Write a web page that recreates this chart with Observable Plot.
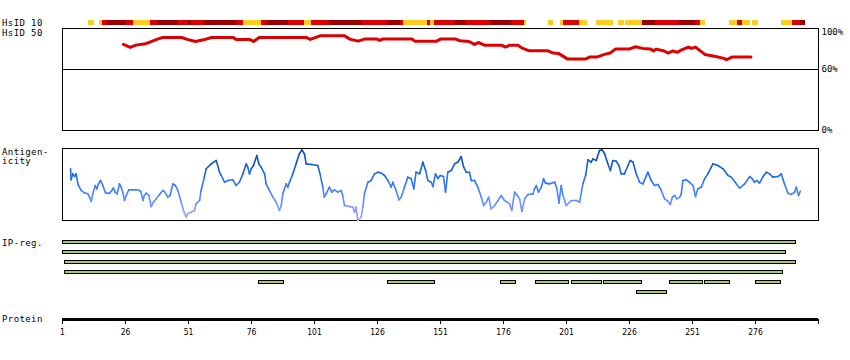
<!DOCTYPE html>
<html><head><meta charset="utf-8">
<script src="https://cdn.jsdelivr.net/npm/d3@7"></script>
<script src="https://cdn.jsdelivr.net/npm/@observablehq/plot@0.6"></script>
<style>
body{margin:0;background:#fff}
#c{position:relative;width:850px;height:360px;overflow:hidden;background:#fff}
#c svg{position:absolute;left:0;top:0}
.lab{position:absolute;left:2px;font:9px "DejaVu Sans Mono",monospace;letter-spacing:0.4px;line-height:10px;white-space:pre;color:#000}
</style></head><body>
<div id="c">
<div class="lab" style="top:18px">HsID 10</div>
<div class="lab" style="top:28px">HsID 50</div>
<div class="lab" style="top:147.6px;line-height:9.5px">Antigen-
icity</div>
<div class="lab" style="top:238px">IP-reg.</div>
<div class="lab" style="top:314.4px">Protein</div>
</div>
<script>
// ---- data (residue positions) ----
const proteinTicks = [1, 26, 51, 76, 101, 126, 151, 176, 201, 226, 251, 276];
const hsid10Levels = ["low", "mid", "high"];
const hsid10Colors = ["#ffcc22", "#dd0000", "#990000"];
// [start, end, level]
const hsid10 = [[11.5,13.5,"low"],[15.5,17,"low"],[17,19,"mid"],[19,26.5,"high"],[26.5,29,"mid"],[29,36,"low"],[36,38.5,"mid"],[38.5,47,"high"],[47,51,"mid"],[51,52,"high"],[52,57.5,"mid"],[57.5,70,"high"],[70,73,"mid"],[73,80,"low"],[80,82.5,"mid"],[82.5,90.5,"high"],[90.5,97,"mid"],[97,100,"low"],[100,107,"mid"],[107,120,"high"],[120,130,"mid"],[130,135,"high"],[135,136.5,"mid"],[136.5,146,"low"],[146,147,"mid"],[147,148.5,"low"],[148.5,157,"mid"],[157,161.5,"high"],[161.5,171,"mid"],[171,179,"high"],[179,184.5,"mid"],[184.5,185,"low"],[194,196,"low"],[198.5,200,"low"],[200,206,"mid"],[206,209.5,"low"],[213,219.5,"low"],[221.5,224,"low"],[224.5,226.5,"low"],[226.5,231,"low"],[231,236.5,"high"],[236.5,246,"mid"],[246,252,"high"],[252,254,"mid"],[254,256,"low"],[265.5,269,"low"],[269,271,"mid"],[271,274,"low"],[275,277,"low"],[286.5,290.5,"low"],[290.5,294,"mid"],[294,296,"high"]];
// [residue, % identity]
const hsid50 = [[25.2,84.5],[27.9,81.4],[30.1,83.7],[33.3,84.7],[35.4,86.3],[38.7,89.6],[40.8,91.2],[48.3,91.2],[50.5,89.3],[53.7,87.3],[56.9,88.9],[60.2,91.2],[68.8,91.2],[69.8,89.3],[75.2,89.3],[76.8,87.3],[79.1,91.2],[97.8,91.2],[99.3,89.3],[103.2,92.8],[112.9,92.8],[115,89.6],[118.3,87.6],[120.8,89.6],[125.8,89.6],[126.9,88.3],[127.9,89.6],[139.8,89.6],[140.8,87.6],[149.5,87.6],[151,89.6],[157,89.6],[158.7,88],[162.3,87.3],[164.5,84.4],[166,86.3],[168.4,83.7],[175.2,83.7],[176.8,81.8],[178.5,83.7],[181.7,83.7],[183.2,81.1],[186,78.2],[193.5,78.2],[195.7,75.9],[197.8,75.6],[201.5,70],[208.5,70],[210.1,72],[212.9,72],[216.1,74.6],[218.3,75.9],[220.4,79.8],[225.8,79.8],[228.4,82.1],[231.2,80.5],[234.4,79.8],[235.5,77.9],[236.6,79.8],[239.8,77.9],[241.3,75.9],[243,77.9],[245.1,76.8],[246.2,78.5],[249.4,81.8],[250.5,80.5],[252.2,81.8],[255.9,74.6],[260.2,72.6],[263.4,70.7],[264.5,69.4],[266.7,72],[274.2,72]];
const hsid50Ticks = [100, 60, 0];
// [residue, antigenicity (relative)]
const antigen = [[4.2,71.8],[4.4,56.5],[5.1,64.8],[5.8,61.1],[6.4,64.8],[7.1,50.9],[7.7,46.3],[8.4,41.7],[9.7,38.4],[11.1,37],[11.7,32.4],[12.4,26.4],[13.0,37],[14.0,48.6],[14.6,44],[15.3,50.9],[16.1,55.6],[17.0,48.6],[18.1,38],[19.7,38],[20.6,41.7],[21.2,45.4],[21.9,39.4],[22.7,37],[23.6,50.9],[24.3,46.3],[24.9,39.4],[25.6,27.8],[26.3,34.7],[27.3,42.6],[30.2,42.6],[31.6,41.7],[32.2,39.4],[32.9,27.8],[33.5,34.7],[34.2,38],[35.3,34.7],[36.2,19.4],[37.1,25.5],[38.2,30.1],[39.5,36.1],[40.8,41.7],[41.7,39.4],[42.8,32.4],[43.7,34.7],[44.8,50.9],[45.8,48.6],[46.8,41.7],[48.1,25.5],[49.1,13],[50.1,4.6],[50.7,9.3],[52.1,11.6],[53.4,13.9],[54.0,23.1],[55.4,27.8],[56.0,41.7],[57.3,60.2],[58.0,71.8],[60.0,78.7],[62.0,83.3],[62.6,76.4],[63.3,67.1],[64.0,62.5],[65.3,53.2],[66.6,55.6],[68.6,56.5],[69.9,48.6],[71.2,53.2],[72.6,64.8],[73.9,78.7],[74.5,74.1],[75.2,64.8],[75.9,71.8],[76.8,76.4],[78.1,90.3],[78.9,78.7],[79.8,74.1],[81.2,64.8],[81.8,50.9],[83.1,41.7],[84.5,32.4],[85.8,25.5],[87.1,13.9],[87.8,20.8],[88.4,37],[89.8,50.9],[90.4,46.3],[91.1,53.2],[92.4,64.8],[93.7,78.7],[95.0,92.6],[96.0,98.1],[97.0,92.6],[97.7,78.7],[99.7,77.8],[102.3,76.4],[103.2,64.8],[104.3,46.3],[104.9,32.4],[105.6,37],[106.9,46.3],[107.9,39.4],[108.9,42.6],[110.3,39.4],[111.6,41.7],[112.2,34.7],[112.9,20.8],[114.9,19.4],[116.2,18.5],[116.9,11.6],[117.5,18.5],[118.2,0],[119.5,4.6],[120.2,18.5],[120.8,37],[122.2,53.2],[123.5,55.6],[124.8,64.8],[126.1,67.1],[127.5,65.7],[128.8,62.5],[130.1,55.6],[131.4,46.3],[132.1,53.2],[133.4,41.7],[134.5,28.7],[135.4,32.4],[136.7,46.3],[138.0,60.2],[139.4,57.9],[140.4,44],[141.3,67.1],[142.7,64.8],[144.0,81],[145.1,69.4],[146.0,55.6],[147.3,53.2],[148.0,47.2],[149.0,64.8],[150.0,58.3],[150.9,62.5],[152.2,61.1],[153.0,39.4],[153.9,67.1],[155.3,69.4],[156.6,78.7],[157.9,81],[159.2,88.9],[160.2,74.1],[161.2,67.1],[162.5,67.1],[163.2,55.6],[164.5,55.6],[165.8,46.3],[167.2,32.4],[168.1,20.8],[169.2,25.5],[170.1,32.4],[171.1,16.2],[172.5,20.8],[173.8,27.8],[175.1,34.7],[176.4,27.8],[178.4,23.1],[179.3,13.9],[180.4,39.4],[181.5,34.7],[182.4,30.1],[183.3,12.5],[184.4,30.1],[185.7,36.1],[187.7,37],[188.3,44],[189.0,48.6],[189.9,39.4],[191.0,46.3],[191.9,57.9],[192.7,51.9],[194.3,50.9],[196.3,53.2],[197.2,44],[198.0,24.1],[198.9,48.6],[199.6,34.7],[200.9,20.8],[202.9,27.8],[204.9,27.8],[206.2,25.5],[207.5,50.9],[208.6,62.5],[209.5,84.3],[210.8,81],[211.5,85.6],[212.8,83.3],[214.1,97.2],[215.2,98.1],[216.1,92.6],[217.4,78.7],[218.4,69.4],[219.4,83.3],[220.7,82.4],[221.8,76.4],[222.7,64.8],[224.0,64.8],[225.4,76.4],[226.3,83.3],[227.4,81],[228.7,64.8],[230.0,53.2],[231.3,50.9],[233.3,67.1],[234.6,55.6],[236.0,48.6],[237.3,50],[238.6,41.7],[239.9,30.1],[241.2,26.9],[242.2,22.2],[243.0,32.4],[243.9,34.7],[244.8,30.1],[245.9,32.4],[246.5,36.1],[247.2,55.6],[248.5,56.5],[249.8,53.2],[251.2,48.6],[252.2,33.3],[253.1,44],[254.5,46.3],[255.8,57.9],[257.1,64.8],[259.1,78.7],[261.1,76.4],[263.1,71.8],[265.1,62.5],[266.4,60.2],[268.4,50.9],[269.7,44.9],[271.7,50.9],[273.7,61.1],[274.7,57.9],[275.6,53.2],[276.6,55.6],[277.6,51.9],[279.0,61.1],[280.3,67.1],[281.6,64.8],[282.9,60.2],[284.9,61.1],[286.2,64.8],[287.5,50.9],[288.9,38],[290.2,36.1],[291.5,39.4],[292.2,46.3],[293.1,34.7],[293.8,40.7]];
// [row, start, end]
const ipRows = [1, 2, 3, 4, 5, 6];
const ipreg = [[1,1,292],[2,1,288],[3,2,292],[4,2,287],[5,79,89],[5,130,149],[5,175,181],[5,189,202],[5,203,215],[5,216,231],[5,242,255],[5,256,266],[5,276,286],[6,229,241]];

// ---- layout ----
const W = 850, H = 360, ML = 62, MR = 32, xDomain = [1, 301];
const svgStyle = "background:transparent;overflow:visible;";
function panel(mt, mb, opts) {
  return Plot.plot(Object.assign({
    width: W, height: H, marginLeft: ML, marginRight: MR, marginTop: mt, marginBottom: mb,
    style: svgStyle, x: {domain: xDomain, axis: null}
  }, opts));
}
const c = document.getElementById("c");

// HsID 10 strip
c.appendChild(panel(20, 335, {
  color: {type: "ordinal", domain: hsid10Levels, range: hsid10Colors},
  marks: [Plot.rect(hsid10, {x1: d => d[0], x2: d => d[1], fill: d => d[2], shapeRendering: "crispEdges"})]
}));

// HsID 50 panel
const pctText = {y: d => d, text: d => d + "%", frameAnchor: "right", dx: 3, textAnchor: "start",
  fontFamily: "DejaVu Sans Mono", fontSize: 9};
c.appendChild(panel(28, 230, {
  y: {domain: [0, 100], axis: null},
  marks: [
    Plot.frame({stroke: "#000", shapeRendering: "crispEdges"}),
    Plot.ruleY([60], {stroke: "#000", shapeRendering: "crispEdges"}),
    Plot.line(hsid50, {x: d => d[0], y: d => d[1], stroke: "#dd0000", strokeWidth: 3}),
    Plot.text(hsid50Ticks.slice(0, 1), {...pctText, dy: 3.5}),
    Plot.text(hsid50Ticks.slice(1), pctText)
  ]
}));

// Antigenicity panel
const segs = d3.pairs(antigen);
c.appendChild(panel(148, 140, {
  y: {domain: [0, 100], axis: null},
  color: {type: "linear", domain: [0, 30, 60, 100], range: ["#aaa2ff", "#5a8cff", "#1f6ff0", "#0042a0"]},
  marks: [
    Plot.frame({stroke: "#000", shapeRendering: "crispEdges"}),
    Plot.link(segs, {x1: d => d[0][0], y1: d => d[0][1], x2: d => d[1][0], y2: d => d[1][1],
      stroke: d => (d[0][1] + d[1][1]) / 2, strokeWidth: 1.6, strokeLinecap: "round"})
  ]
}));

// IP-reg bars
c.appendChild(panel(230, 50, {
  y: {type: "band", domain: ipRows, range: [240, 307], paddingInner: 0.7, paddingOuter: 0.7, align: 0, round: false, axis: null},
  marks: [
    Plot.barX(ipreg, {y: d => d[0], x1: d => d[1], x2: d => d[2], fill: "#a6cc5e", stroke: "#000", strokeWidth: 1, shapeRendering: "crispEdges"})
  ]
}));

// Protein axis
c.appendChild(panel(300, 41, {
  x: {domain: xDomain},
  y: {domain: [0, 1], axis: null},
  style: svgStyle + "font-family:'DejaVu Sans Condensed',sans-serif;font-size:8.5px;",
  marks: [
    Plot.ruleY([0], {stroke: "#000", strokeWidth: 3}),
    Plot.axisX({ticks: [...proteinTicks, xDomain[1]], tickFormat: d => proteinTicks.includes(d) ? String(d) : "",
      tickSize: 5, tickPadding: 4, anchor: "bottom", label: null})
  ]
}));
</script>
</body></html>
